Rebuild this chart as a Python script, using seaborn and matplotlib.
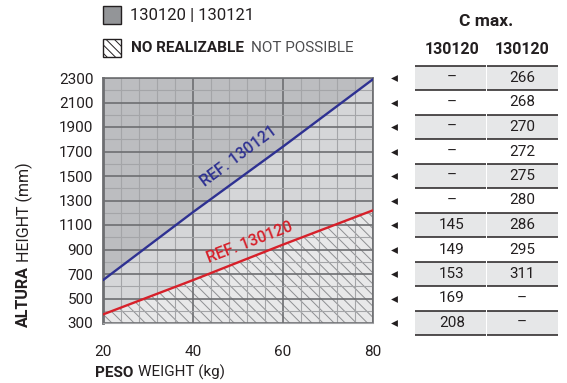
import numpy as np
import matplotlib.pyplot as plt
import matplotlib.transforms as mtransforms
from matplotlib.patches import Rectangle
import seaborn as sns

# ------------------ DATA ------------------

peso = [20, 40, 60, 80]
ref_130121 = [650, 1205, 1740, 2290]
ref_130120 = [370, 650, 940, 1220]

altura = [2300, 2100, 1900, 1700, 1500, 1300, 1100, 900, 700, 500, 300]
cmax_130120 = ["–", "–", "–", "–", "–", "–", "145", "149", "153", "169", "208"]
cmax_130121 = ["266", "268", "270", "272", "275", "280", "286", "295", "311", "–", "–"]

x_ticks = [20, 40, 60, 80]

# ------------------ STYLE ------------------

sns.set_theme(style="white")
plt.rcParams["font.family"] = ["Roboto", "DejaVu Sans"]
plt.rcParams["hatch.linewidth"] = 0.7

TXT = "#231f20"
DARK = "#bcbdc0"
MID = "#d5d6d8"
LIGHT = "#e8e8e9"
HATCH = "#8e8f92"
MAJOR = "#6d6e71"
MINOR = "#a4a5a8"
BLUE = "#2e3192"
RED = "#d7202a"
BAND = "#e6e7e8"

W, H = 567, 383


def fx(x):
    return x / W


def fy(y):
    return 1 - y / H


fig = plt.figure(figsize=(W / 100, H / 100), dpi=100)
ax = fig.add_axes([fx(103), fy(323), 270 / W, 245 / H])

# ------------------ REGIONS ------------------

ax.fill_between(peso, ref_130121, 2300, color=DARK, lw=0, zorder=0)
ax.fill_between(peso, ref_130120, ref_130121, color=MID, lw=0, zorder=0)
ax.fill_between(peso, 300, ref_130120, facecolor=LIGHT, edgecolor=HATCH,
                hatch="\\\\\\", lw=0, zorder=0)

sns.lineplot(x=peso, y=ref_130121, ax=ax, color=BLUE, lw=1.7, zorder=3)
sns.lineplot(x=peso, y=ref_130120, ax=ax, color=RED, lw=1.7, zorder=3)

ax.set_xlim(20, 80)
ax.set_ylim(300, 2300)

# ------------------ GRID ------------------

ax.set_xticks(x_ticks)
ax.set_xticks(np.arange(20, 81, 4), minor=True)
ax.set_yticks(altura)
ax.set_yticks(np.arange(300, 2301, 100), minor=True)
ax.grid(which="minor", color=MINOR, lw=0.8)
ax.grid(which="major", color=MAJOR, lw=1.2)
ax.tick_params(which="major", length=5, width=1.2, color=MAJOR,
               labelsize=11, labelcolor=TXT)
ax.tick_params(axis="x", which="major", pad=11)
ax.tick_params(axis="y", which="major", pad=2)
ax.tick_params(which="minor", length=0)
for side, sp in ax.spines.items():
    sp.set_color(MAJOR)
    sp.set_linewidth(1.2)
ax.spines["left"].set_linewidth(2)
ax.spines["bottom"].set_color(MINOR)
ax.spines["bottom"].set_linewidth(0.8)

# ------------------ LINE LABELS ------------------


def label_line(xs, ys, xc, text, color, gap):
    p = ax.transData.transform(np.column_stack([xs, ys]))
    ang = np.degrees(np.arctan2(p[-1, 1] - p[0, 1], p[-1, 0] - p[0, 0]))
    yc = np.interp(xc, xs, ys)
    a = np.radians(ang)
    tr = mtransforms.offset_copy(ax.transData, fig=fig,
                                 x=-np.sin(a) * gap, y=np.cos(a) * gap,
                                 units="points")
    ax.text(xc, yc, text, color=color, fontsize=11.5, fontweight="medium",
            rotation=ang, rotation_mode="anchor", ha="center",
            va="baseline", transform=tr, zorder=4)


label_line(peso, ref_130121, 52.7, "REF. 130121", BLUE, 10)
label_line(peso, ref_130120, 53.8, "REF. 130120", RED, 7)

# ------------------ AXIS LABELS ------------------

t = fig.text(fx(95), fy(373), "PESO", fontsize=11, fontweight="bold",
             color=TXT, ha="left", va="center")
ax.annotate("WEIGHT (kg)", xy=(1, 0), xycoords=t, xytext=(3, 0),
            textcoords="offset points", fontsize=11, color=TXT,
            ha="left", va="bottom", annotation_clip=False)

t = fig.text(fx(23), fy(327), "ALTURA", fontsize=11.5, fontweight="bold",
             color=TXT, rotation=90, ha="center", va="bottom")
ax.annotate("HEIGHT (mm)", xy=(0, 1), xycoords=t, xytext=(0, 3),
            textcoords="offset points", fontsize=11.5, color=TXT,
            rotation=90, ha="left", va="bottom", annotation_clip=False)

# ------------------ LEGEND ------------------

fig.add_artist(Rectangle((fx(103), fy(24)), 18 / W, 18 / H,
                         transform=fig.transFigure, fc="#939598",
                         ec=TXT, lw=1))
fig.add_artist(Rectangle((fx(103), fy(57)), 18 / W, 18 / H,
                         transform=fig.transFigure, fc="white",
                         ec=TXT, lw=1, hatch="\\\\\\\\"))
fig.text(fx(130), fy(15), "130120 | 130121", fontsize=12, color=TXT,
         va="center", ha="left")
t = fig.text(fx(131), fy(48), "NO REALIZABLE", fontsize=11,
             fontweight="bold", color=TXT, va="center", ha="left")
ax.annotate("NOT POSSIBLE", xy=(1, 0), xycoords=t, xytext=(5, 0),
            textcoords="offset points", fontsize=11, color="#4d4d4f",
            ha="left", va="bottom", annotation_clip=False)

# ------------------ TABLE ------------------

tax = fig.add_axes([fx(380), fy(323), 187 / W, 245 / H])
tax.set_xlim(0, 187)
tax.set_ylim(300, 2300)
tax.axis("off")

cols = [(35, 106), (107, 178)]
for i, (h, a, b) in enumerate(zip(altura, cmax_130120, cmax_130121)):
    if i % 2 == 0:
        for x0, x1 in cols:
            tax.add_patch(Rectangle((x0, h - 100), x1 - x0, 200, fc=BAND,
                                    lw=0, clip_on=False, zorder=0))
    for x0, x1 in cols:
        tax.hlines(h - 100, x0, x1, color=TXT, lw=1.1, clip_on=False)
        if i == 0:
            tax.hlines(h + 100, x0, x1, color=TXT, lw=1.1, clip_on=False)
    tax.text(72, h, a, fontsize=11, color=TXT, ha="center", va="center")
    tax.text(142, h, b, fontsize=11, color=TXT, ha="center", va="center")

tax.scatter([14] * len(altura), altura, marker="<", s=24, color=TXT,
            lw=0, clip_on=False)

fig.text(fx(486), fy(22), "C max.", fontsize=12.5, fontweight="bold",
         color=TXT, ha="center", va="center")
fig.text(fx(452), fy(50), "130120", fontsize=11.5, fontweight="bold",
         color=TXT, ha="center", va="center")
fig.text(fx(522), fy(50), "130120", fontsize=11.5, fontweight="bold",
         color=TXT, ha="center", va="center")

fig.savefig("out.png", dpi=100)
